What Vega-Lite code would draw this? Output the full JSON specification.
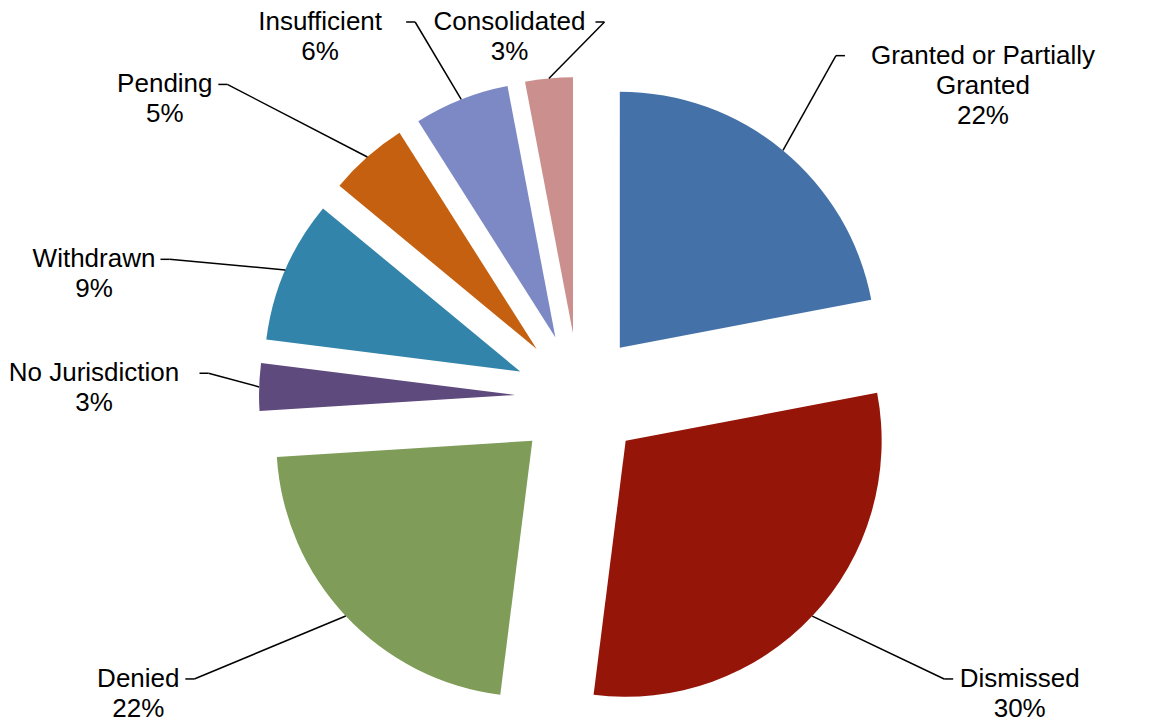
{
  "$schema": "https://vega.github.io/schema/vega-lite/v6.json",
  "width": 1140,
  "height": 662,
  "autosize": "none",
  "padding": {"left": 9, "top": 66, "right": 0, "bottom": 0},
  "background": "white",
  "view": {"stroke": null},
  "data": {
    "values": [
      {"name": "Granted or Partially\nGranted", "pct": 22, "rank": 1},
      {"name": "Dismissed", "pct": 30, "rank": 2},
      {"name": "Denied", "pct": 22, "rank": 3},
      {"name": "No Jurisdiction", "pct": 3, "rank": 4},
      {"name": "Withdrawn", "pct": 9, "rank": 5},
      {"name": "Pending", "pct": 5, "rank": 6},
      {"name": "Insufficient", "pct": 6, "rank": 7},
      {"name": "Consolidated", "pct": 3, "rank": 8}
    ]
  },
  "transform": [
    {"stack": "pct", "groupby": [], "sort": [{"field": "rank", "order": "ascending"}], "as": ["s0", "s1"]}
  ],
  "layer": [
    {
      "mark": {
        "type": "arc",
        "radius": 256,
        "x": {"expr": "width/2 + 64*sin(PI*(datum.s0+datum.s1)/100)"},
        "y": {"expr": "height/2 - 64*cos(PI*(datum.s0+datum.s1)/100)"}
      },
      "encoding": {
        "theta": {"field": "s0", "type": "quantitative", "scale": {"domain": [0, 100]}},
        "theta2": {"field": "s1"},
        "color": {
          "field": "name",
          "type": "nominal",
          "scale": {
            "domain": ["Granted or Partially\nGranted", "Dismissed", "Denied", "No Jurisdiction", "Withdrawn", "Pending", "Insufficient", "Consolidated"],
            "range": ["#4472A8", "#961509", "#7F9C58", "#5E4A7D", "#3284AA", "#C4600F", "#7D89C5", "#CB8F8E"]
          },
          "legend": null
        }
      }
    },
    {
      "mark": {"type": "rule", "color": "black", "strokeWidth": 1.5},
      "encoding": {
        "x": {"value": {"expr": "width/2 + 320*sin(PI*(datum.s0+datum.s1)/100)"}},
        "y": {"value": {"expr": "height/2 - 320*cos(PI*(datum.s0+datum.s1)/100)"}},
        "x2": {"value": {"expr": "width/2 + clamp(510*sin(PI*(datum.s0+datum.s1)/100 + 0.227*sin(PI*(datum.s0+datum.s1)/50)), -485, 485) - (sin(PI*(datum.s0+datum.s1)/100 + 0.227*sin(PI*(datum.s0+datum.s1)/50)) >= 0 ? 1 : -1)*(6.5*length(split(datum.name,'\\n')[0]) + 17)"}},
        "y2": {"value": {"expr": "height/2 + clamp(cos(PI*(datum.s0+datum.s1)/100 + 0.227*sin(PI*(datum.s0+datum.s1)/50)) > 0 ? -510*cos(PI*(datum.s0+datum.s1)/100 + 0.227*sin(PI*(datum.s0+datum.s1)/50)) : -590*cos(PI*(datum.s0+datum.s1)/100 + 0.227*sin(PI*(datum.s0+datum.s1)/50)), -360, 306) - 15*length(split(datum.name,'\\n'))"}}
      }
    },
    {
      "mark": {"type": "rule", "color": "black", "strokeWidth": 1.5},
      "encoding": {
        "x": {"value": {"expr": "width/2 + clamp(510*sin(PI*(datum.s0+datum.s1)/100 + 0.227*sin(PI*(datum.s0+datum.s1)/50)), -485, 485) - (sin(PI*(datum.s0+datum.s1)/100 + 0.227*sin(PI*(datum.s0+datum.s1)/50)) >= 0 ? 1 : -1)*(6.5*length(split(datum.name,'\\n')[0]) + 17)"}},
        "y": {"value": {"expr": "height/2 + clamp(cos(PI*(datum.s0+datum.s1)/100 + 0.227*sin(PI*(datum.s0+datum.s1)/50)) > 0 ? -510*cos(PI*(datum.s0+datum.s1)/100 + 0.227*sin(PI*(datum.s0+datum.s1)/50)) : -590*cos(PI*(datum.s0+datum.s1)/100 + 0.227*sin(PI*(datum.s0+datum.s1)/50)), -360, 306) - 15*length(split(datum.name,'\\n'))"}},
        "x2": {"value": {"expr": "width/2 + clamp(510*sin(PI*(datum.s0+datum.s1)/100 + 0.227*sin(PI*(datum.s0+datum.s1)/50)), -485, 485) - (sin(PI*(datum.s0+datum.s1)/100 + 0.227*sin(PI*(datum.s0+datum.s1)/50)) >= 0 ? 1 : -1)*(6.5*length(split(datum.name,'\\n')[0]) + 8)"}},
        "y2": {"value": {"expr": "height/2 + clamp(cos(PI*(datum.s0+datum.s1)/100 + 0.227*sin(PI*(datum.s0+datum.s1)/50)) > 0 ? -510*cos(PI*(datum.s0+datum.s1)/100 + 0.227*sin(PI*(datum.s0+datum.s1)/50)) : -590*cos(PI*(datum.s0+datum.s1)/100 + 0.227*sin(PI*(datum.s0+datum.s1)/50)), -360, 306) - 15*length(split(datum.name,'\\n'))"}}
      }
    },
    {
      "mark": {
        "type": "text",
        "font": "Liberation Sans",
        "fontSize": 26,
        "lineHeight": 30,
        "color": "black",
        "align": "center",
        "baseline": "middle",
        "lineBreak": "\n",
        "text": {"expr": "datum.name + '\\n' + datum.pct + '%'"},
        "x": {"expr": "width/2 + clamp(510*sin(PI*(datum.s0+datum.s1)/100 + 0.227*sin(PI*(datum.s0+datum.s1)/50)), -485, 485)"},
        "y": {"expr": "height/2 + clamp(cos(PI*(datum.s0+datum.s1)/100 + 0.227*sin(PI*(datum.s0+datum.s1)/50)) > 0 ? -510*cos(PI*(datum.s0+datum.s1)/100 + 0.227*sin(PI*(datum.s0+datum.s1)/50)) : -590*cos(PI*(datum.s0+datum.s1)/100 + 0.227*sin(PI*(datum.s0+datum.s1)/50)), -360, 306) - 15*length(split(datum.name,'\\n'))"}
      },
      "encoding": {}
    }
  ]
}
